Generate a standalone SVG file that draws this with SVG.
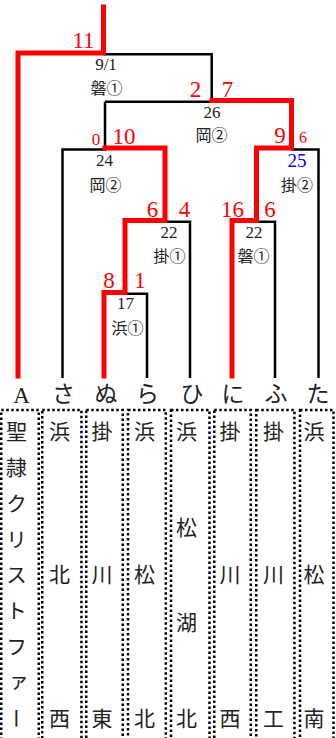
<svg xmlns="http://www.w3.org/2000/svg" width="336" height="738" viewBox="0 0 336 738">
<style>
.r{fill:none;stroke:#ff0000;stroke-width:5;stroke-linecap:square}
.k{fill:none;stroke:#000;stroke-width:2.5}
.box{fill:none;stroke:#000;stroke-width:2.5;stroke-dasharray:2.5 2.5}
text{font-family:"Liberation Serif","Noto Sans CJK JP",serif;text-anchor:middle}
.sc{fill:#ff0000;font-size:23px}
.ss{fill:#ff0000;font-size:17px}
.num{fill:#222;font-size:17px}
.blue{fill:#0000ff;font-size:19px}
.kj{fill:#222;font-size:16px}
.hd{fill:#222;font-size:23px}
.nm{fill:#222;font-size:21px;writing-mode:vertical-rl;text-anchor:start}
</style>
<rect width="336" height="738" fill="#fff"/>
<g id="connectors">
<path class="k" d="M103.5 54.2H211.7V100.5"/>
<path class="k" d="M105 101.7H211.7"/>
<path class="k" d="M105 101.7V149.5H62.5V378"/>
<path class="k" d="M165 221.7H190V378"/>
<path class="k" d="M125 293.7H147V378"/>
<path class="k" d="M291.5 149.5H318.5V378"/>
<path class="k" d="M256.5 221.7H275V378"/>
<path class="r" d="M103.5 7V53H18V376"/>
<path class="r" d="M104 376V292.5H125V220.5H165V148H105"/>
<path class="r" d="M232 376V220.5H256.5V148H291.5V100.5H212"/>
</g>
<g id="match-final">
<text class="sc" x="83.5" y="48">11</text>
<text class="num" x="106" y="70">9/1</text>
<text class="kj" x="106.5" y="94">磐①</text>
</g>
<g id="match-26">
<text class="sc" x="195.5" y="97">2</text>
<text class="sc" x="227.5" y="97">7</text>
<text class="num" x="212" y="118">26</text>
<text class="kj" x="211.5" y="141">岡②</text>
</g>
<g id="match-24">
<text class="ss" x="96" y="145">0</text>
<text class="sc" x="124" y="144">10</text>
<text class="num" x="104.5" y="166">24</text>
<text class="kj" x="105.5" y="191">岡②</text>
</g>
<g id="match-22a">
<text class="sc" x="152.5" y="217">6</text>
<text class="sc" x="184.5" y="217">4</text>
<text class="num" x="169" y="238">22</text>
<text class="kj" x="169.5" y="262">掛①</text>
</g>
<g id="match-17">
<text class="sc" x="109" y="288">8</text>
<text class="sc" x="140" y="288">1</text>
<text class="num" x="125.5" y="309">17</text>
<text class="kj" x="127.5" y="334">浜①</text>
</g>
<g id="match-25">
<text class="sc" x="280" y="143">9</text>
<text class="ss" x="303" y="143" style="font-size:16px">6</text>
<text class="blue" x="297" y="167">25</text>
<text class="kj" x="297" y="191">掛②</text>
</g>
<g id="match-22b">
<text class="sc" x="232.5" y="217">16</text>
<text class="sc" x="270" y="217">6</text>
<text class="num" x="254" y="238">22</text>
<text class="kj" x="253.5" y="262">磐①</text>
</g>
<g id="team-A">
<text class="hd" x="21.5" y="403">A</text>
<rect class="box" x="1.25" y="410" width="37.5" height="340"/>
<text class="nm" x="14.5" y="420.5 456.4 492.3 528.1 564 599.9 635.8 671.6 707.5">聖隷クリストファー</text>
</g>
<g id="team-sa">
<text class="hd" x="63.5" y="402">さ</text>
<rect class="box" x="42.25" y="410" width="39.2" height="340"/>
<text class="nm" x="57.5" y="420.5 564 707.5">浜北西</text>
</g>
<g id="team-nu">
<text class="hd" x="106" y="402">ぬ</text>
<rect class="box" x="86.25" y="410" width="36.5" height="340"/>
<text class="nm" x="100" y="420.5 564 707.5">掛川東</text>
</g>
<g id="team-ra">
<text class="hd" x="147.5" y="402">ら</text>
<rect class="box" x="128" y="410" width="37.8" height="340"/>
<text class="nm" x="142.5" y="420.5 564 707.5">浜松北</text>
</g>
<g id="team-hi">
<text class="hd" x="192" y="402">ひ</text>
<rect class="box" x="171" y="410" width="38.5" height="340"/>
<text class="nm" x="184.5" y="420.5 516.2 611.8 707.5">浜松湖北</text>
</g>
<g id="team-ni">
<text class="hd" x="233" y="402">に</text>
<rect class="box" x="214.25" y="410" width="36.5" height="340"/>
<text class="nm" x="228" y="420.5 564 707.5">掛川西</text>
</g>
<g id="team-fu">
<text class="hd" x="276" y="402">ふ</text>
<rect class="box" x="256.25" y="410" width="38.2" height="340"/>
<text class="nm" x="271.5" y="420.5 564 707.5">掛川工</text>
</g>
<g id="team-ta">
<text class="hd" x="318" y="402">た</text>
<rect class="box" x="300" y="410" width="33.5" height="340"/>
<text class="nm" x="312" y="420.5 564 707.5">浜松南</text>
</g>
</svg>
